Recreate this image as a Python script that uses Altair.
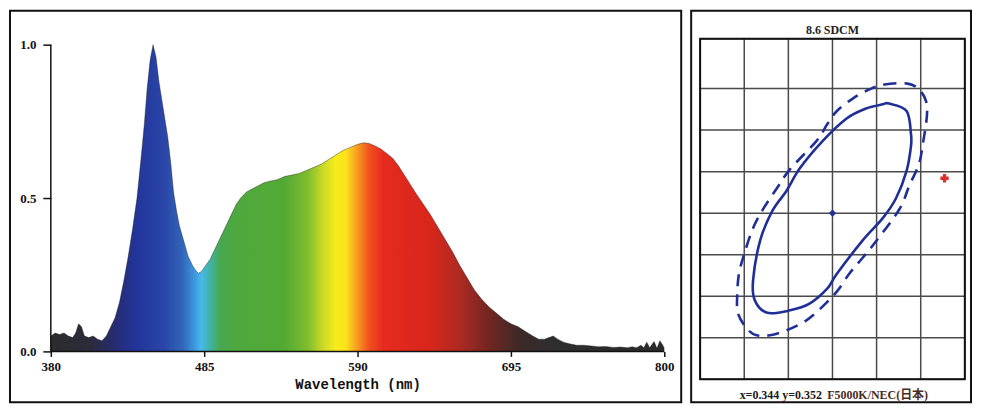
import altair as alt
import pandas as pd

# ---------------- spectrum data ----------------
wavelength_nm = [380, 383, 386, 389, 392, 395, 397, 399, 401, 403, 406, 409, 412, 415, 418,
                 421, 424, 427, 430, 433, 436, 439, 442, 444, 446, 448, 450, 452, 454, 456,
                 458, 460, 462, 464, 466, 468, 471, 474, 477, 479, 481, 483, 486, 489, 492,
                 495, 498, 501, 504, 507, 510, 514, 518, 522, 526, 530, 535, 540, 545, 550,
                 555, 560, 565, 570, 575, 580, 585, 590, 594, 598, 602, 606, 610, 614, 618,
                 622, 626, 630, 635, 640, 645, 650, 655, 660, 665, 670, 675, 680, 685, 690,
                 695, 700, 705, 710, 714, 718, 721, 724, 727, 731, 735, 740, 745, 750, 755,
                 760, 765, 770, 775, 778, 781, 784, 786, 788, 790, 793, 795, 797, 799, 800]
relative_power = [0.05, 0.06, 0.055, 0.06, 0.05, 0.045, 0.06, 0.09, 0.08, 0.05, 0.045, 0.05, 0.04, 0.035, 0.05,
                  0.08, 0.11, 0.16, 0.23, 0.31, 0.40, 0.50, 0.64, 0.74, 0.86, 0.95, 1.00, 0.96, 0.88, 0.82,
                  0.76, 0.70, 0.62, 0.52, 0.46, 0.41, 0.36, 0.31, 0.28, 0.265, 0.255, 0.26, 0.28, 0.30, 0.33,
                  0.36, 0.39, 0.42, 0.45, 0.48, 0.50, 0.52, 0.53, 0.54, 0.55, 0.555, 0.56, 0.57, 0.575, 0.58,
                  0.59, 0.60, 0.61, 0.625, 0.64, 0.655, 0.665, 0.675, 0.68, 0.678, 0.67, 0.66, 0.645, 0.63, 0.605,
                  0.575, 0.545, 0.515, 0.48, 0.445, 0.405, 0.365, 0.325, 0.28, 0.24, 0.20, 0.17, 0.145, 0.125, 0.105,
                  0.09, 0.08, 0.065, 0.05, 0.04, 0.04, 0.045, 0.05, 0.04, 0.03, 0.025, 0.02, 0.02, 0.018, 0.015,
                  0.016, 0.013, 0.014, 0.012, 0.015, 0.012, 0.02, 0.012, 0.03, 0.012, 0.032, 0.01, 0.035, 0.02, 0.01]

x_ticks = [380, 485, 590, 695, 800]
y_ticks = [0.0, 0.5, 1.0]
x_title = "Wavelength (nm)"

# ---------------- chromaticity panel data ----------------
panel_title = "8.6 SDCM"
caption_xy = "x=0.344 y=0.352"
caption_ref = "F5000K/NEC(日本)"
grid_x = [0.329, 0.334, 0.339, 0.344, 0.349, 0.354, 0.359]
grid_y = [0.332, 0.337, 0.342, 0.347, 0.352, 0.357, 0.362, 0.367, 0.373]

solid_x = [0.3497, 0.3504, 0.3524, 0.3529, 0.3529, 0.3524, 0.3512, 0.3497, 0.3474, 0.3445, 0.3434, 0.3414,
           0.3392, 0.3366, 0.3352, 0.3350, 0.3358, 0.3372, 0.3388, 0.3403, 0.3429, 0.3456, 0.3478]
solid_y = [0.3651, 0.3652, 0.3643, 0.3615, 0.3601, 0.3571, 0.3538, 0.3514, 0.3487, 0.3447, 0.3429, 0.3411,
           0.3403, 0.3400, 0.3415, 0.3439, 0.3487, 0.3523, 0.3547, 0.3574, 0.3607, 0.3634, 0.3646]

dash_x = [0.3482, 0.3499, 0.3525, 0.3538, 0.3546, 0.3547, 0.3543, 0.3538, 0.3527, 0.3516, 0.3490, 0.3474,
          0.3459, 0.3446, 0.3433, 0.3418, 0.3406, 0.3388, 0.3369, 0.3354, 0.3343, 0.3333, 0.3332, 0.3334,
          0.3340, 0.3350, 0.3362, 0.3377, 0.3392, 0.3422, 0.3434, 0.3445, 0.3463]
dash_y = [0.3669, 0.3675, 0.3676, 0.3669, 0.3655, 0.3637, 0.3607, 0.3579, 0.3553, 0.3525, 0.3487, 0.3466,
          0.3447, 0.3427, 0.3412, 0.3397, 0.3388, 0.3379, 0.3373, 0.3373, 0.3381, 0.3399, 0.3421, 0.3447,
          0.3471, 0.3502, 0.3526, 0.3550, 0.3573, 0.3607, 0.3627, 0.3643, 0.3658]

measured_x, measured_y = [0.344], [0.352]
reference_x, reference_y = [0.3567], [0.3562]

# ---------------- styles ----------------
SPEC_STOP_NM = [380, 408, 424, 438, 458, 470, 477, 483, 489, 496, 506, 540, 556, 566, 575, 582, 589,
                598, 608, 640, 660, 680, 700, 722, 800]
SPEC_STOP_COLOR = ["#2c2c2c", "#2b2b3c", "#262c72", "#22349a", "#2a47a8", "#3164b9", "#3a90d8", "#48b8ee",
                   "#40b4a4", "#48a850", "#4ea83e", "#52aa34", "#80bd2e", "#c8d826", "#f6ec1c", "#fde11a",
                   "#f8a21f", "#f05020", "#e62a1e", "#d8261c", "#ad2a22", "#722622", "#3e2a28", "#2e2e2e",
                   "#2a2a2a"]
NAVY = "#1f2f96"
FONT = "Liberation Mono"
SERIF = "Liberation Serif, Noto Sans CJK JP"

nm_lo, nm_hi = min(SPEC_STOP_NM), max(SPEC_STOP_NM)
stops = [alt.GradientStop(color=c, offset=(w - nm_lo) / (nm_hi - nm_lo))
         for w, c in zip(SPEC_STOP_NM, SPEC_STOP_COLOR)]
spectrum_fill = alt.Gradient(gradient="linear", stops=stops, x1=0, x2=1, y1=0, y2=0)

# ---------------- left panel ----------------
LW, LH = 674, 393
xs = alt.Scale(domain=[352.045, 811.59], nice=False, zero=False)
ys = alt.Scale(domain=[-0.16558, 1.11039], nice=False, zero=False)

spec_df = pd.DataFrame({"nm": wavelength_nm, "rel": relative_power})
one = pd.DataFrame({"k": [0]})

x_axis = alt.Axis(values=x_ticks, offset=-51, domain=False, grid=False, tickSize=5, tickWidth=1.5,
                  tickColor="#111", labelFont=SERIF, labelFontSize=13, labelFontWeight="bold",
                  labelColor="#111", labelPadding=4, labelFlush=False, title=x_title,
                  titleFont=FONT, titleFontSize=14, titleFontWeight="bold", titleColor="#111",
                  titlePadding=4, titleX=349, zindex=2)
y_axis = alt.Axis(values=y_ticks, format=".1f", offset=-41, domain=False, grid=False, tickSize=8,
                  tickWidth=1.5, tickColor="#111", labelFont=SERIF, labelFontSize=13,
                  labelFontWeight="bold", labelColor="#111", labelPadding=7, title=None, zindex=2)

area = alt.Chart(spec_df).mark_area(color=spectrum_fill).encode(
    x=alt.X("nm:Q", scale=xs, axis=x_axis),
    y=alt.Y("rel:Q", scale=ys, axis=y_axis),
    y2=alt.datum(0),
)
edge = alt.Chart(spec_df).mark_line(color="#1a1a1a", strokeWidth=0.8, opacity=0.5).encode(
    x=alt.X("nm:Q", scale=xs, axis=x_axis),
    y=alt.Y("rel:Q", scale=ys, axis=y_axis),
)
x_domain = alt.Chart(one).mark_rule(color="#111", strokeWidth=1.5).encode(
    x=alt.XDatum(x_ticks[0], scale=xs, axis=x_axis), x2=alt.datum(x_ticks[-1]),
    y=alt.YDatum(0, scale=ys, axis=y_axis),
)
y_domain = alt.Chart(one).mark_rule(color="#111", strokeWidth=1.5).encode(
    x=alt.XDatum(x_ticks[0], scale=xs, axis=x_axis),
    y=alt.YDatum(y_ticks[0], scale=ys, axis=y_axis), y2=alt.datum(y_ticks[-1]),
)
left = alt.layer(area, edge, x_domain, y_domain).properties(width=LW, height=LH)

# ---------------- right panel ----------------
RW, RH = 281, 393
cxs = alt.Scale(domain=[0.327984, 0.359701], nice=False, zero=False)
cys = alt.Scale(domain=[0.329242, 0.376363], nice=False, zero=False)

def cx(field=None, datum=None):
    if datum is not None:
        return alt.XDatum(datum, scale=cxs, axis=None)
    return alt.X(field, scale=cxs, axis=None)

def cy(field=None, datum=None):
    if datum is not None:
        return alt.YDatum(datum, scale=cys, axis=None)
    return alt.Y(field, scale=cys, axis=None)

vlines = alt.Chart(pd.DataFrame({"gx": grid_x})).mark_rule(color="#4a4a4a", strokeWidth=1.5).encode(
    x=cx("gx:Q"), y=cy(datum=grid_y[0]), y2=alt.datum(grid_y[-1]))
hlines = alt.Chart(pd.DataFrame({"gy": grid_y})).mark_rule(color="#4a4a4a", strokeWidth=1.5).encode(
    y=cy("gy:Q"), x=cx(datum=grid_x[0]), x2=alt.datum(grid_x[-1]))
box = alt.Chart(one).mark_rect(fill=None, stroke="#111", strokeWidth=2).encode(
    x=cx(datum=grid_x[0]), x2=alt.datum(grid_x[-1]),
    y=cy(datum=grid_y[0]), y2=alt.datum(grid_y[-1]))

solid_df = pd.DataFrame({"x": solid_x, "y": solid_y, "i": range(len(solid_x))})
dash_df = pd.DataFrame({"x": dash_x, "y": dash_y, "i": range(len(dash_x))})
solid = alt.Chart(solid_df).mark_line(color=NAVY, strokeWidth=2.6, interpolate="cardinal-closed").encode(
    x=cx("x:Q"), y=cy("y:Q"), order="i:Q")
dashed = alt.Chart(dash_df).mark_line(color=NAVY, strokeWidth=2.6, strokeDash=[12, 8],
                                      interpolate="cardinal-closed").encode(
    x=cx("x:Q"), y=cy("y:Q"), order="i:Q")
meas = alt.Chart(pd.DataFrame({"x": measured_x, "y": measured_y})).mark_point(
    shape="diamond", filled=True, color=NAVY, size=55, opacity=1).encode(x=cx("x:Q"), y=cy("y:Q"))
ref = alt.Chart(pd.DataFrame({"x": reference_x, "y": reference_y})).mark_point(
    shape="cross", filled=True, color="#d9302a", size=70, opacity=1).encode(x=cx("x:Q"), y=cy("y:Q"))

ttl = alt.Chart(one).mark_text(text=panel_title, font=SERIF, fontSize=12, fontWeight="bold",
                                color="#222", baseline="middle", align="center").encode(
    x=cx(datum=0.3440), y=cy(datum=0.3740))
cap1 = alt.Chart(one).mark_text(text=caption_xy, font=SERIF, fontSize=12, fontWeight="bold",
                                 color="#1a1a1a", baseline="middle", align="right").encode(
    x=cx(datum=0.3428), y=cy(datum=0.3301))
cap2 = alt.Chart(one).mark_text(text=caption_ref, font=SERIF, fontSize=12, fontWeight="bold",
                                 color="#4a2c1c", baseline="middle", align="left").encode(
    x=cx(datum=0.3434), y=cy(datum=0.3301))

right = alt.layer(vlines, hlines, box, dashed, solid, meas, ref, ttl, cap1, cap2).properties(
    width=RW, height=RH)

chart = alt.hconcat(left, right, spacing=8).properties(
    padding={"left": 1, "top": 1, "right": 1, "bottom": 1}, background="white"
).configure_view(stroke="#111", strokeWidth=2, fill="white")

chart.save("out.html", embed_options={"renderer": "svg", "actions": False})
